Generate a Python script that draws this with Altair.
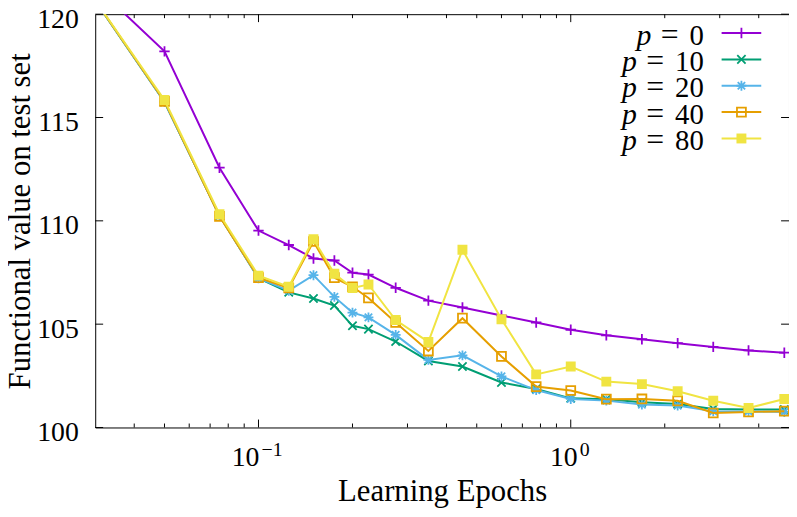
import altair as alt
import pandas as pd

# ---------------- data ----------------
epochs = [0.025, 0.05, 0.075, 0.1, 0.125, 0.15, 0.175, 0.2, 0.225, 0.275,
          0.35, 0.45, 0.6, 0.775, 1.0, 1.3, 1.69, 2.2, 2.86, 3.71, 4.83]
p_values = ["0", "10", "20", "40", "80"]

f_p0 = [122.5, 118.2, 112.57, 109.53, 108.83, 108.18, 108.08, 107.49, 107.40, 106.76,
        106.14, 105.81, 105.42, 105.08, 104.73, 104.46, 104.27, 104.08, 103.90, 103.73, 103.62]
f_p10 = [122.4, 115.75, 110.25, 107.22, 106.54, 106.24, 105.90, 104.92, 104.76, 104.16,
         103.22, 102.95, 102.18, 101.86, 101.41, 101.37, 101.22, 101.14, 100.90, 100.87, 100.87]
f_p20 = [122.4, 115.75, 110.25, 107.22, 106.62, 107.37, 106.32, 105.56, 105.33, 104.48,
         103.27, 103.49, 102.47, 101.81, 101.38, 101.30, 101.11, 101.06, 100.78, 100.78, 100.75]
f_p40 = [122.4, 115.78, 110.22, 107.25, 106.75, 109.00, 107.25, 106.81, 106.27, 105.08,
         103.70, 105.29, 103.44, 101.98, 101.79, 101.37, 101.38, 101.29, 100.70, 100.75, 100.79]
f_p80 = [122.4, 115.85, 110.32, 107.35, 106.81, 109.11, 107.44, 106.75, 106.92, 105.20,
         104.14, 108.60, 105.24, 102.57, 102.95, 102.22, 102.10, 101.75, 101.29, 100.94, 101.38]
series_values = [f_p0, f_p10, f_p20, f_p40, f_p80]

x_major_ticks = [0.1, 1.0]
x_major_exponents = ["\u22121", "0"]
x_minor_ticks = [0.04, 0.05, 0.06, 0.07, 0.08, 0.09,
                 0.2, 0.3, 0.4, 0.5, 0.6, 0.7, 0.8, 0.9, 2, 3, 4]
y_major_ticks = [100, 105, 110, 115, 120]
x_title = "Learning Epochs"
y_title = "Functional value on test set"

# ---------------- style ----------------
colors = ["#9400d3", "#009e73", "#56b4e9", "#e69f00", "#f0e442"]
marker_shapes = ["M-1,0L1,0M0,-1L0,1",
                 "M-1,-1L1,1M-1,1L1,-1",
                 "M-1,0L1,0M0,-1L0,1M-0.75,-0.75L0.75,0.75M-0.75,0.75L0.75,-0.75",
                 "square", "square"]
marker_filled = [False, False, False, False, True]
marker_sizes = [110, 70, 100, 81, 100]

FONT = "Liberation Serif"
W, H = 700, 417
PAD = {"left": 88, "top": 4, "right": 0, "bottom": 80}

xs = alt.Scale(type="log", domain=[0.03, 5], nice=False)
ys = alt.Scale(domain=[100, 120], nice=False, zero=False)

x_axis = alt.Axis(title=x_title, labels=False, ticks=False, domain=False, grid=False,
                  titleFont=FONT, titleFontSize=31, titleFontWeight="normal",
                  titleColor="black", titleX=W / 2, titleY=74,
                  titleBaseline="alphabetic", titleAlign="center")
y_axis = alt.Axis(title=y_title, values=y_major_ticks, ticks=False, domain=False, grid=False,
                  labelFont=FONT, labelFontSize=28, labelColor="black", labelPadding=17,
                  labelBaseline="alphabetic", labelOffset=13, format="d",
                  titleFont=FONT, titleFontSize=31, titleFontWeight="normal",
                  titleColor="black", titleX=-66, titleY=H / 2, titleAngle=270,
                  titleBaseline="alphabetic", titleAlign="center")


def X(field):
    return alt.X(field, scale=xs, axis=x_axis)


def Y(field):
    return alt.Y(field, scale=ys, axis=y_axis)


layers = []

# series: line then markers, in gnuplot order
for i, (pv, vals) in enumerate(zip(p_values, series_values)):
    df = pd.DataFrame({"epoch": epochs, "f": vals})
    line = alt.Chart(df).mark_line(color=colors[i], strokeWidth=2, clip=True).encode(
        x=X("epoch:Q"), y=Y("f:Q"))
    pts = alt.Chart(df).mark_point(
        shape=marker_shapes[i], filled=marker_filled[i], color=colors[i],
        size=marker_sizes[i], strokeWidth=1.8, opacity=1, clip=True
    ).encode(x=X("epoch:Q"), y=Y("f:Q"))
    layers += [line, pts]

    # legend entry (label left, sample right, gnuplot style)
    ly = 19 + i * 26.6
    leg = pd.DataFrame({"num": [pv], "eq": ["="], "p": ["p"]})
    numleft = 614 - 14.5 * len(pv)
    layers.append(alt.Chart(leg).mark_rule(color=colors[i], strokeWidth=2).encode(
        x=alt.value(632), x2=alt.value(672), y=alt.value(ly)))
    layers.append(alt.Chart(leg).mark_point(
        shape=marker_shapes[i], filled=marker_filled[i], color=colors[i],
        size=marker_sizes[i], strokeWidth=1.8, opacity=1).encode(
        x=alt.value(652), y=alt.value(ly)))
    layers.append(alt.Chart(leg).mark_text(align="right", baseline="alphabetic", font=FONT,
                                           fontSize=29, color="black").encode(
        x=alt.value(614), y=alt.value(ly + 11.7), text="num:N"))
    layers.append(alt.Chart(leg).mark_text(align="center", baseline="alphabetic", font=FONT,
                                           fontSize=32, color="black").encode(
        x=alt.value(numleft - 20), y=alt.value(ly + 11.7), text="eq:N"))
    layers.append(alt.Chart(leg).mark_text(align="center", baseline="alphabetic", font=FONT,
                                           fontSize=30, fontStyle="italic", color="black").encode(
        x=alt.value(numleft - 46), y=alt.value(ly + 11.7), text="p:N"))

# inward ticks (gnuplot style, mirrored)
xmaj = pd.DataFrame({"v": x_major_ticks})
xmin = pd.DataFrame({"v": x_minor_ticks})
ymaj = pd.DataFrame({"v": y_major_ticks})
for d, L in ((xmaj, 8), (xmin, 4)):
    layers.append(alt.Chart(d).mark_rule(color="black", strokeWidth=1).encode(
        x=X("v:Q"), y=alt.value(H), y2=alt.value(H - L)))
    layers.append(alt.Chart(d).mark_rule(color="black", strokeWidth=1).encode(
        x=X("v:Q"), y=alt.value(0), y2=alt.value(L)))
layers.append(alt.Chart(ymaj).mark_rule(color="black", strokeWidth=1).encode(
    y=Y("v:Q"), x=alt.value(0), x2=alt.value(8)))
layers.append(alt.Chart(ymaj).mark_rule(color="black", strokeWidth=1).encode(
    y=Y("v:Q"), x=alt.value(W), x2=alt.value(W - 8)))

# x tick labels 10^k
base_dx = [1, 7]
exp_dx = [3, 9]
for i, (v, e) in enumerate(zip(x_major_ticks, x_major_exponents)):
    d = pd.DataFrame({"v": [v], "b": ["10"], "e": [e]})
    layers.append(alt.Chart(d).mark_text(align="right", baseline="alphabetic", dx=base_dx[i],
                                         font=FONT, fontSize=28, color="black").encode(
        x=X("v:Q"), y=alt.value(H + 39), text="b:N"))
    layers.append(alt.Chart(d).mark_text(align="left", baseline="alphabetic", dx=exp_dx[i],
                                         font=FONT, fontSize=20, color="black").encode(
        x=X("v:Q"), y=alt.value(H + 29), text="e:N"))

chart = alt.layer(*layers).properties(
    width=W, height=H, padding=PAD,
    autosize=alt.AutoSizeParams(type="none"),
    background="white",
).configure_view(stroke="black", strokeWidth=1)

chart.save("out.html", embed_options={"renderer": "svg", "actions": False})
